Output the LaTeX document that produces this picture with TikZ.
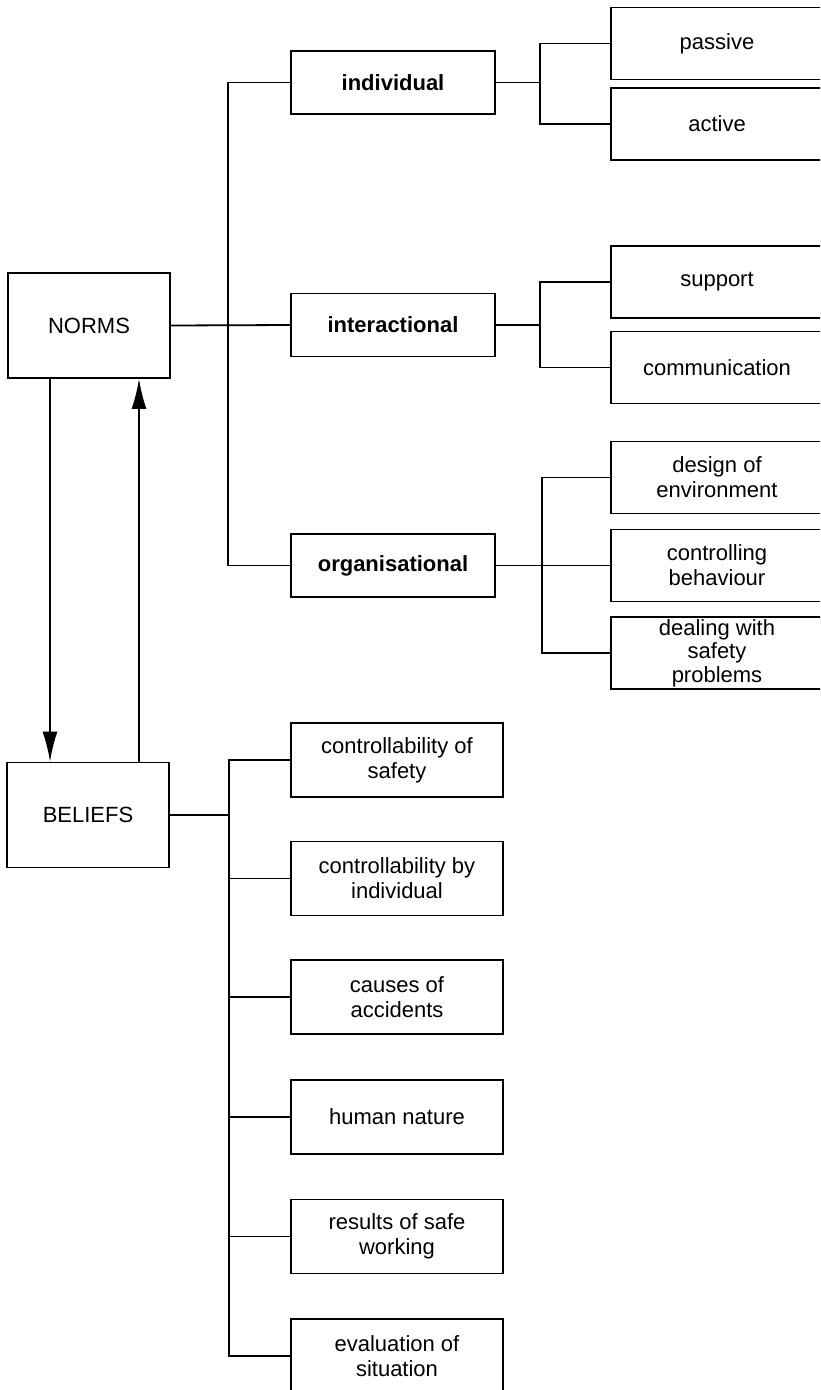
\documentclass[tikz,border=0pt]{standalone}
\usepackage{fontspec}
\setmainfont{Liberation Sans}
\usetikzlibrary{arrows.meta}

\tikzset{
  box/.style = {draw, inner sep = 0pt, align = center,
                font = \fontsize{22}{25}\selectfont},
  mainbox/.style = {box, minimum width = 162, minimum height = 105},
  kindbox/.style = {box, minimum width = 204, minimum height = 63,
                    font = \fontsize{22}{25}\selectfont\bfseries},
  leafbox/.style = {box, minimum width = 212, minimum height = 72},
  beliefbox/.style = {box, minimum width = 212, minimum height = 74},
  flow/.style = {-{Latex[length = 30, width = 15]}}
}

\begin{document}
\begin{tikzpicture}[x = 1pt, y = -1pt, line width = 1.8pt]
            \useasboundingbox (0,0) rectangle (820,1390);
            \clip (0,0) rectangle (820,1390);

            % the two main blocks
            \node [mainbox] (norms) at (89,325.5) {NORMS};
            \node [mainbox] (beliefs) at (88,815) {BELIEFS};

            \draw [flow] ([xshift = -39]norms.south) -- ([xshift = -39]norms.south |- beliefs.north);
            \draw [flow] ([xshift = 50]norms.south |- beliefs.north) -- ([xshift = 50]norms.south);

            % kinds of norms
            \node [kindbox] (individual) at (393,82.5) {individual};
            \node [kindbox] (interactional) at (393,325) {interactional};
            \node [kindbox] (organisational) at (393,565.5) {organisational};

            \coordinate (nsplit) at (228,325);
            \draw (norms.east) -- (interactional.west);
            \draw (individual.west) -| (nsplit) |- (organisational.west);

            % individual
            \node [leafbox] (passive) at (717,43.5) {passive};
            \node [leafbox] (active) at (717,124) {active};
            \coordinate (isplit) at (540,82.5);
            \draw (individual.east) -- (isplit);
            \draw (passive.west) -| (isplit) |- (active.west);

            % interactional
            \node [leafbox] (support) at (717,282) {support};
            \node [leafbox] (communication) at (717,367.5) {communication};
            \coordinate (csplit) at (540,325);
            \draw (interactional.east) -- (csplit);
            \draw (support.west) -| (csplit) |- (communication.west);

            % organisational
            \node [leafbox] (design) at (717,477.5) {design of\\environment};
            \node [leafbox] (controlling) at (717,565.5) {controlling\\behaviour};
            \node [leafbox, font = \fontsize{22}{23.5}\selectfont] (dealing) at (717,653) {dealing with\\safety\\problems};
            \coordinate (osplit) at (542,565.5);
            \draw (organisational.east) -- (controlling.west);
            \draw (design.west) -| (osplit) |- (dealing.west);

            % beliefs
            \node [beliefbox] (b1) at (397,760) {controllability of\\safety};
            \node [beliefbox] (b2) at (397,878.5) {controllability by\\individual};
            \node [beliefbox] (b3) at (397,997) {causes of\\accidents};
            \node [beliefbox] (b4) at (397,1117) {human nature};
            \node [beliefbox] (b5) at (397,1236.5) {results of safe\\working};
            \node [beliefbox] (b6) at (397,1356) {evaluation of\\situation};

            \coordinate (bsplit) at (229,815);
            \draw (beliefs.east) -- (bsplit);
            \draw (b1.west) -| (bsplit) |- (b6.west);
            \foreach \i in {2,...,5}
                \draw (b\i.west) -- (b\i.west -| bsplit);

\end{tikzpicture}
\end{document}
